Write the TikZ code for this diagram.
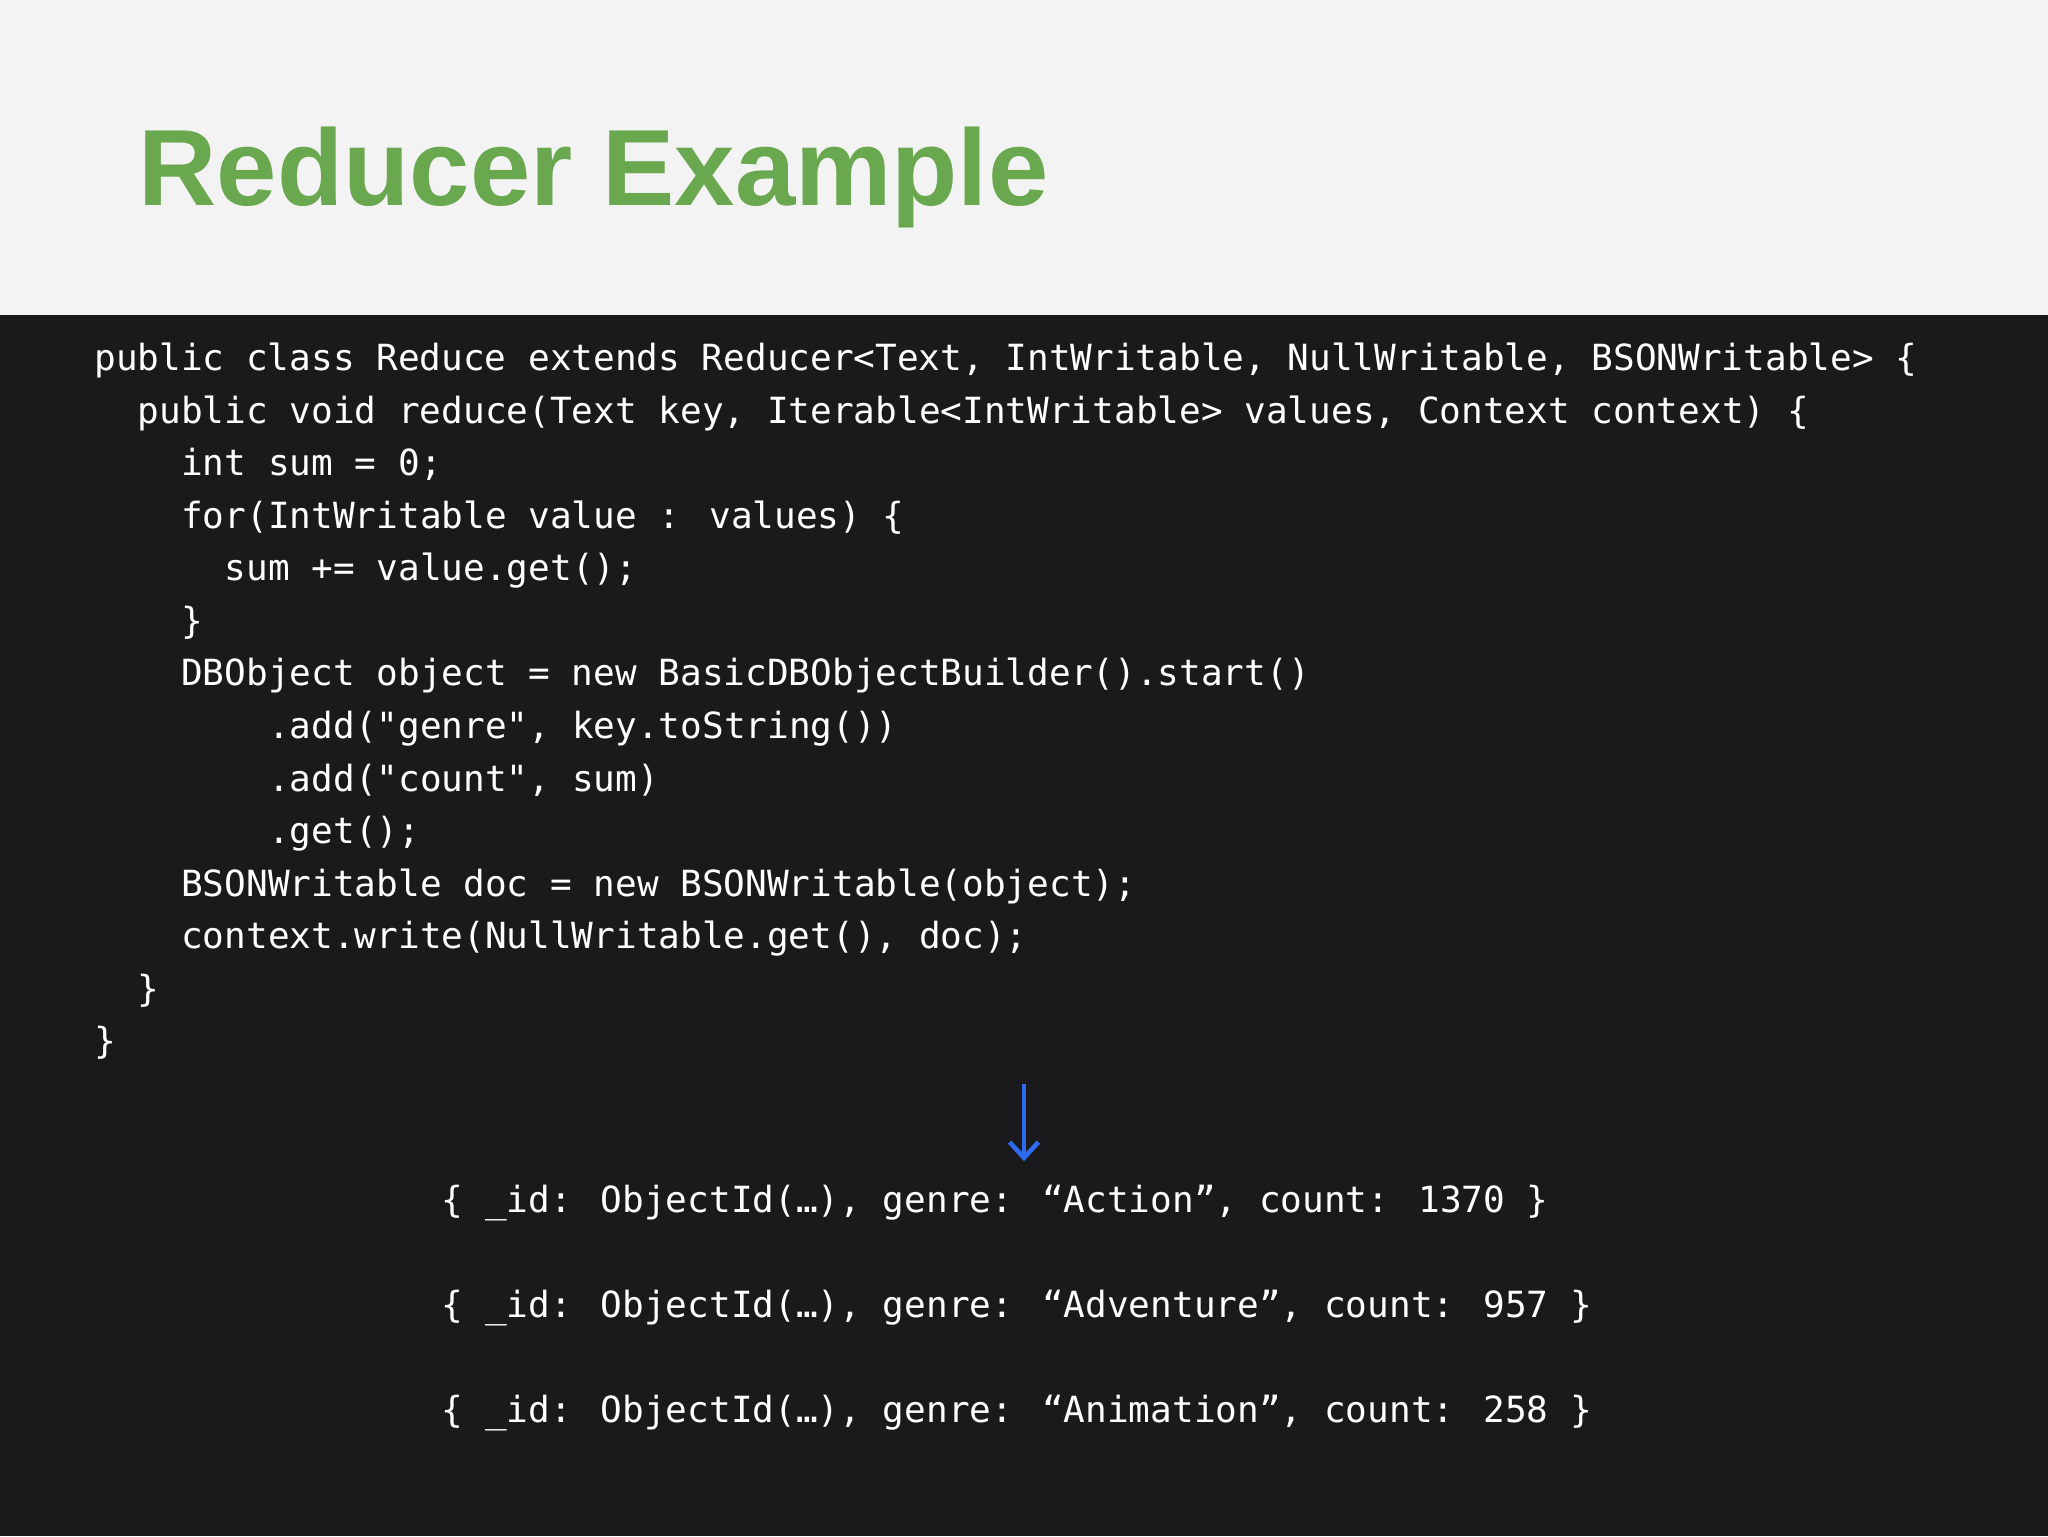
\documentclass[tikz,border=0pt]{standalone}
\usepackage{fontspec}
\setmainfont{Liberation Sans}
\newfontfamily\codefont{DejaVu Sans Mono}
\usetikzlibrary{arrows.meta}
\definecolor{bgtop}{HTML}{F3F3F3}
\definecolor{bgdark}{HTML}{1A191B}
\definecolor{titlegreen}{HTML}{6AA84F}
\definecolor{arrowblue}{HTML}{2F6BF0}
\tikzset{code/.style={anchor=base west,inner sep=0pt,text=white,font=\codefont\fontsize{27.6}{30}\selectfont}}
\begin{document}
\begin{tikzpicture}[x=1pt,y=-1pt]
\useasboundingbox (0,0) rectangle (1568,1176);
\fill[bgtop] (0,0) rectangle (1568,241);
\fill[bgdark] (0,241) rectangle (1568,1176);
\node[anchor=base west,inner sep=0pt,text=titlegreen,font=\bfseries\fontsize{83}{90}\selectfont] (title) at (106,157) {Reducer Example};
\def\cw{16.65}
\foreach \i/\n/\t in {
0/0/{public class Reduce extends Reducer<Text, IntWritable, NullWritable, BSONWritable> \{},
1/2/{public void reduce(Text key, Iterable<IntWritable> values, Context context) \{},
2/4/{int sum = 0;},
3/4/{for(IntWritable value : values) \{},
4/6/{sum += value.get();},
5/4/{\}},
6/4/{DBObject object = new BasicDBObjectBuilder().start()},
7/8/{.add("genre", key.toString())},
8/8/{.add("count", sum)},
9/8/{.get();},
10/4/{BSONWritable doc = new BSONWritable(object);},
11/4/{context.write(NullWritable.get(), doc);},
12/2/{\}},
13/0/{\}}}
{\node[code] (l\i) at ({72+\n*\cw},{284+\i*40.2}) {\t};}
\node[code] (o1) at (338,928) {\{ \_id: ObjectId(…), genre: “Action”, count: 1370 \}};
\node[code] (o2) at (338,1009) {\{ \_id: ObjectId(…), genre: “Adventure”, count: 957 \}};
\node[code] (o3) at (338,1089) {\{ \_id: ObjectId(…), genre: “Animation”, count: 258 \}};
\coordinate (as) at (784,830);
\coordinate (ae) at (784,889);
\draw[arrowblue,line width=3.5pt,-{Straight Barb[length=12pt,width=22pt]}] (as) -- (ae);
\end{tikzpicture}
\end{document}
